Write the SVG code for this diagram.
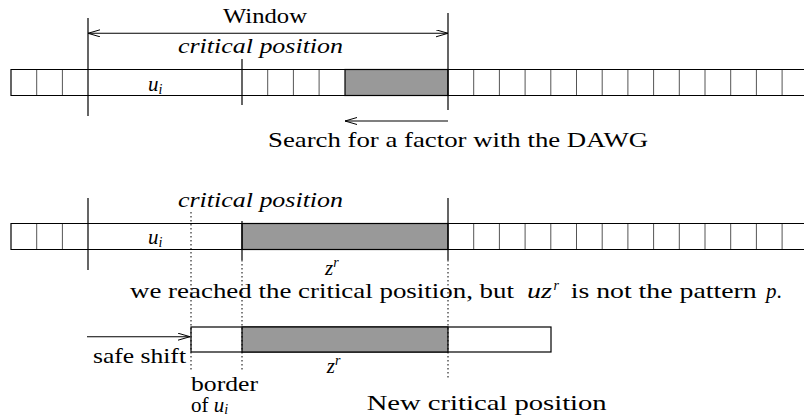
<svg xmlns="http://www.w3.org/2000/svg" width="804" height="417" viewBox="0 0 804 417">
  <style>
    .t { font-size: 21px; fill: #000; }
    .it { font-style: italic; }
    .sup { font-style: italic; font-size: 14px; }
    .bar { fill: none; stroke: #000; stroke-width: 1.2; }
    .cell { stroke: #555; stroke-width: 1; }
    .gray { fill: #999; stroke: #000; stroke-width: 1.2; }
    .ln { stroke: #000; stroke-width: 1.2; fill: none; }
    .dot { stroke: #000; stroke-width: 1; stroke-dasharray: 1.5 2.5; fill: none; }
    .arr { stroke: #000; stroke-width: 1.1; fill: none; }
  </style>
  <defs>
    <marker id="head" markerWidth="13" markerHeight="8" refX="12" refY="3.5" orient="auto-start-reverse" markerUnits="userSpaceOnUse">
      <path d="M0,0 L12,3.5 L0,7" fill="none" stroke="#000" stroke-width="1"/>
    </marker>
  </defs>
  <rect width="804" height="417" fill="#fff"/>

  <!-- Row 1: text with search window -->
  <g id="row1">
    <rect class="gray" x="345" y="69.5" width="103" height="26"/>
    <path class="cell" d="M36.7,69.5V95.5 M62.4,69.5V95.5 M267.7,69.5V95.5 M293.4,69.5V95.5 M319.1,69.5V95.5 M473.7,69.5V95.5 M499.4,69.5V95.5 M525.1,69.5V95.5 M550.8,69.5V95.5 M576.5,69.5V95.5 M602.2,69.5V95.5 M627.9,69.5V95.5 M653.6,69.5V95.5 M679.3,69.5V95.5 M705,69.5V95.5 M730.7,69.5V95.5 M756.4,69.5V95.5 M782.1,69.5V95.5"/>
    <path class="bar" d="M810,69.5H11V95.5H810"/>
    <path class="ln" d="M88,18V116 M448,13V110 M242,59V105"/>
    <text class="t" font-family="Liberation Serif" x="223" y="22.7" textLength="84" lengthAdjust="spacingAndGlyphs">Window</text>
    <text class="t it" font-family="Liberation Serif" x="178" y="53" textLength="165" lengthAdjust="spacingAndGlyphs">critical position</text>
    <text class="t it" font-family="Liberation Serif" x="148" y="90.7">u<tspan class="sup" font-family="Liberation Serif" dy="3">i</tspan></text>
    <text class="t" font-family="Liberation Serif" x="268" y="146.7" textLength="380" lengthAdjust="spacingAndGlyphs">Search for a factor with the DAWG</text>
  </g>

  <!-- Row 2: critical position reached -->
  <g id="row2">
    <rect class="gray" x="242" y="223.5" width="206" height="26"/>
    <path class="cell" d="M36.7,223.5V249.5 M62.4,223.5V249.5 M473.7,223.5V249.5 M499.4,223.5V249.5 M525.1,223.5V249.5 M550.8,223.5V249.5 M576.5,223.5V249.5 M602.2,223.5V249.5 M627.9,223.5V249.5 M653.6,223.5V249.5 M679.3,223.5V249.5 M705,223.5V249.5 M730.7,223.5V249.5 M756.4,223.5V249.5 M782.1,223.5V249.5"/>
    <path class="bar" d="M810,223.5H11V249.5H810"/>
    <path class="ln" d="M88,198V270 M448,198V260 M242,221V260"/>
    <text class="t it" font-family="Liberation Serif" x="178" y="206.7" textLength="165" lengthAdjust="spacingAndGlyphs">critical position</text>
    <text class="t it" font-family="Liberation Serif" x="148" y="244">u<tspan class="sup" font-family="Liberation Serif" dy="3">i</tspan></text>
    <text class="t it" font-family="Liberation Serif" x="325" y="275">z<tspan class="sup" font-family="Liberation Serif" dy="-8">r</tspan></text>
    <text class="t" font-family="Liberation Serif" x="130" y="298" textLength="384" lengthAdjust="spacingAndGlyphs">we reached the critical position, but</text>
    <text class="t it" font-family="Liberation Serif" x="527" y="298" textLength="25" lengthAdjust="spacingAndGlyphs">uz</text>
    <text class="sup" font-family="Liberation Serif" x="553.5" y="290">r</text>
    <text class="t" font-family="Liberation Serif" x="570.7" y="298" textLength="186" lengthAdjust="spacingAndGlyphs">is not the pattern</text>
    <text class="t" font-family="Liberation Serif" x="766" y="298"><tspan class="it" font-family="Liberation Serif">p</tspan>.</text>
  </g>

  <!-- Row 3: shifted pattern -->
  <g id="row3">
    <rect x="191" y="327" width="360" height="25" fill="#fff" stroke="#000" stroke-width="1.2"/>
    <rect class="gray" x="242" y="327" width="206" height="25"/>
    <text class="t" font-family="Liberation Serif" x="93" y="363" textLength="93" lengthAdjust="spacingAndGlyphs">safe shift</text>
    <text class="t" font-family="Liberation Serif" x="191" y="391" textLength="67" lengthAdjust="spacingAndGlyphs">border</text>
    <text class="t" font-family="Liberation Serif" x="191" y="412">of <tspan class="it" font-family="Liberation Serif">u</tspan><tspan class="sup" font-family="Liberation Serif" dy="2">i</tspan></text>
    <text class="t it" font-family="Liberation Serif" x="326.7" y="373">z<tspan class="sup" font-family="Liberation Serif" dy="-8">r</tspan></text>
    <text class="t" font-family="Liberation Serif" x="366.7" y="410" textLength="240" lengthAdjust="spacingAndGlyphs">New critical position</text>
  </g>

  <!-- Connectors and guide lines -->
  <g id="connectors">
    <line class="arr" x1="88" y1="33.3" x2="448" y2="33.3" marker-start="url(#head)" marker-end="url(#head)"/>
    <line class="arr" x1="448" y1="121" x2="345" y2="121" marker-end="url(#head)"/>
    <line class="arr" x1="87" y1="336.7" x2="190" y2="336.7" marker-end="url(#head)"/>
    <path class="dot" d="M191,212V372 M242,260V372 M448,260V378"/>
  </g>
</svg>
